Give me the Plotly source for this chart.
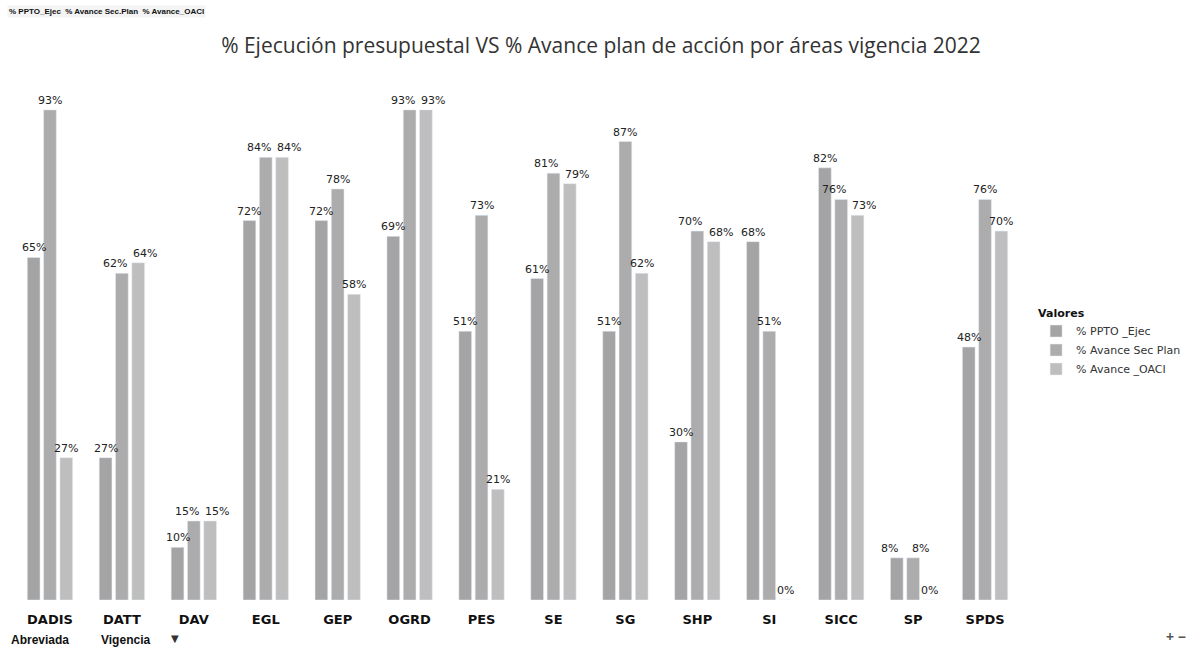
import plotly.graph_objects as go

# Datos (porcentajes por área, vigencia 2022)
areas = ['DADIS', 'DATT', 'DAV', 'EGL', 'GEP', 'OGRD', 'PES',
         'SE', 'SG', 'SHP', 'SI', 'SICC', 'SP', 'SPDS']
ppto_ejec = [65, 27, 10, 72, 72, 69, 51, 61, 51, 30, 68, 82, 8, 48]
avance_sec_plan = [93, 62, 15, 84, 78, 93, 73, 81, 87, 70, 51, 76, 8, 76]
avance_oaci = [27, 64, 15, 84, 58, 93, 21, 79, 62, 68, 0, 73, 0, 70]

series = [
    ('% PPTO _Ejec', ppto_ejec, '#a4a4a4'),
    ('% Avance Sec Plan', avance_sec_plan, '#acacac'),
    ('% Avance _OACI', avance_oaci, '#bebebe'),
]

W, H = 1202, 649
M = dict(l=14, r=181, t=73, b=49)
BARGAP = 0.32

fig = go.Figure()
for name, vals, color in series:
    fig.add_trace(go.Bar(
        x=areas,
        y=vals,
        name=name,
        marker_color=color,
        cliponaxis=False,
    ))

# Etiquetas de datos: centradas sobre cada barra; si dos vecinas quedan
# casi a la misma altura se separan un poco hacia los lados
cat_px = (W - M['l'] - M['r']) / len(areas)
slot = cat_px * (1 - BARGAP) / len(series)
for j, area in enumerate(areas):
    vals = [s[1][j] for s in series]
    shift = [0.0] * len(vals)
    for i in range(len(vals) - 1):
        if abs(vals[i] - vals[i + 1]) < 4:
            shift[i] -= 7
            shift[i + 1] += 7
    for i, v in enumerate(vals):
        fig.add_annotation(
            x=area, y=v, text=f'{v}%',
            xshift=(i - 1) * slot + shift[i], yshift=1,
            xanchor='center', yanchor='bottom', showarrow=False,
            font=dict(family='DejaVu Sans, sans-serif', size=11, color='#222222'),
        )

fig.update_layout(
    width=W,
    height=H,
    barmode='group',
    bargap=BARGAP,
    bargroupgap=0.22,
    plot_bgcolor='white',
    paper_bgcolor='white',
    font=dict(family='Open Sans, DejaVu Sans, sans-serif', color='#222222'),
    margin=M,
    title=dict(
        text='% Ejecución presupuestal VS % Avance plan de acción por áreas vigencia 2022',
        x=0.5, xref='container', y=0.93, yanchor='middle',
        font=dict(size=21, color='#333333'),
    ),
    xaxis=dict(
        showgrid=False, showline=False, zeroline=False,
        ticks='outside', ticklen=7, tickcolor='rgba(0,0,0,0)',
        tickfont=dict(family='DejaVu Sans, sans-serif', size=13,
                      color='#111111', weight='bold'),
        fixedrange=True,
    ),
    yaxis=dict(
        range=[0, 100], visible=False, showgrid=False, fixedrange=True,
    ),
    legend=dict(
        title=dict(text='<b>Valores</b>', font=dict(size=11, color='#111111')),
        x=1.015, xanchor='left', y=0.565, yanchor='top',
        font=dict(family='DejaVu Sans, sans-serif', size=11, color='#333333'),
        bgcolor='rgba(0,0,0,0)',
    ),
    showlegend=True,
)


def px_x(px):
    # posición horizontal en píxeles de la página -> coordenada paper
    return (px - M['l']) / (W - M['l'] - M['r'])


# Botones de campo de la tabla dinámica (arriba y abajo)
fig.add_annotation(
    text='<b>% PPTO_Ejec  % Avance Sec.Plan  % Avance_OACI</b>',
    xref='paper', yref='paper', x=px_x(7), y=1.116, xanchor='left', yanchor='middle',
    showarrow=False, font=dict(family='Liberation Sans, sans-serif', size=8, color='#111111'),
    bgcolor='#f4f4f4',
)
for label, px in [('<b>Abreviada</b>', 9), ('<b>Vigencia</b>', 99)]:
    fig.add_annotation(
        text=label, xref='paper', yref='paper', x=px_x(px), y=-0.076,
        xanchor='left', yanchor='middle', showarrow=False,
        font=dict(family='Liberation Sans, sans-serif', size=12, color='#111111'),
    )
fig.add_annotation(
    text='▼', xref='paper', yref='paper', x=px_x(175), y=-0.073,
    xanchor='center', yanchor='middle', showarrow=False,
    font=dict(size=10, color='#333333'),
)
fig.add_annotation(
    text='<b>+ −</b>',
    xref='paper', yref='paper', x=px_x(1176), y=-0.07, xanchor='center', yanchor='middle',
    showarrow=False, font=dict(size=14, color='#555555'),
)

fig.write_html('out.html', config=dict(displayModeBar=False),
               post_script="document.body.style.margin='0';")
